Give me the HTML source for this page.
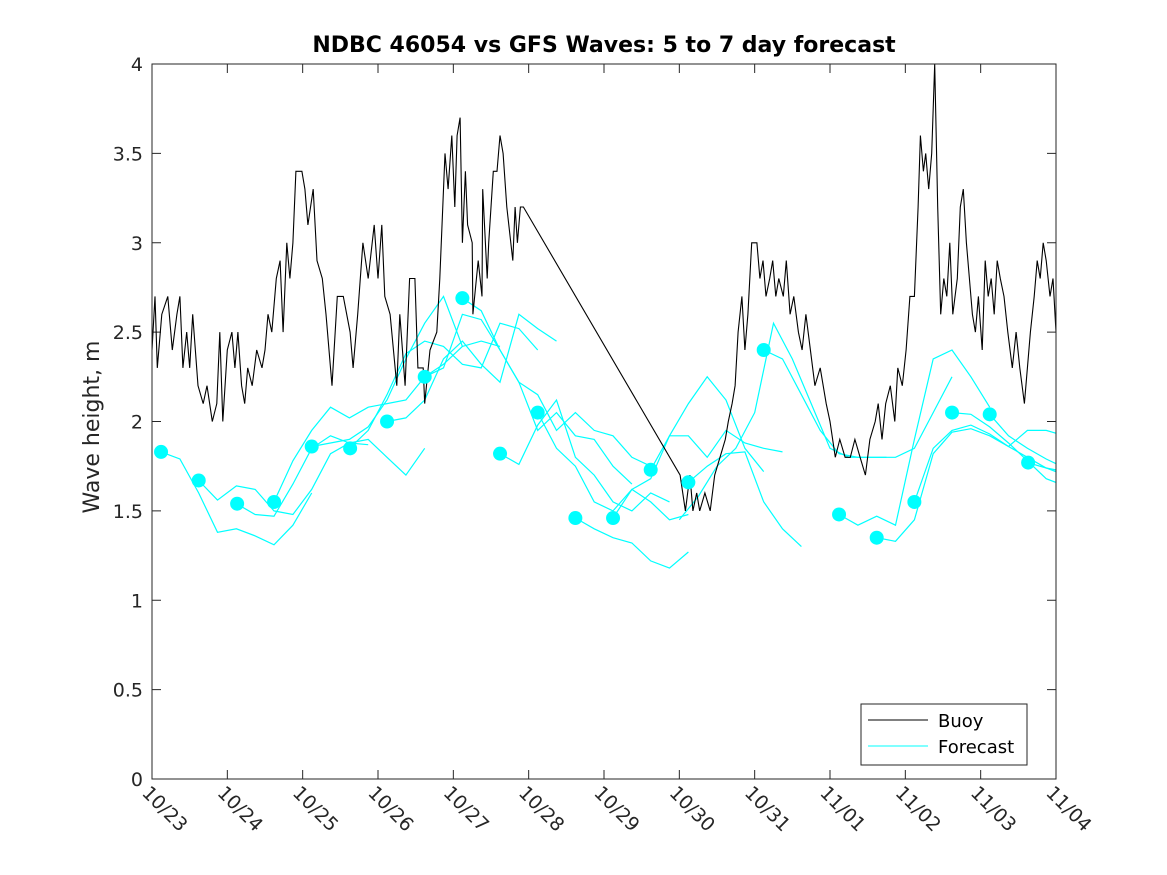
<!DOCTYPE html>
<html><head><meta charset="utf-8"><style>
body{margin:0;background:#fff;}
svg{display:block;font-family:"DejaVu Sans","Liberation Sans",sans-serif;}
</style></head><body>
<svg id="chart" width="1167" height="875" viewBox="0 0 1167 875" xmlns="http://www.w3.org/2000/svg">
<rect width="1167" height="875" fill="#fff"/>
<text x="604" y="52" text-anchor="middle" font-size="22" font-weight="bold" fill="#000">NDBC 46054 vs GFS Waves: 5 to 7 day forecast</text>
<text transform="translate(99,427) rotate(-90)" text-anchor="middle" font-size="22" fill="#262626">Wave height, m</text>
<defs><clipPath id="plotclip"><rect x="152" y="64" width="904" height="715"/></clipPath></defs>
<g id="grid"></g>
<g id="fc" clip-path="url(#plotclip)"></g>
<g id="buoy" clip-path="url(#plotclip)"></g>
<g id="dots"></g>
<rect x="152" y="64" width="904" height="715" fill="none" stroke="#262626" stroke-width="1"/>
<g>
<rect x="861" y="704" width="166" height="61" fill="#fff" stroke="#262626" stroke-width="1"/>
<line x1="868" y1="720" x2="928" y2="720" stroke="#000" stroke-width="1"/>
<text x="938" y="727" font-size="18" fill="#000">Buoy</text>
<line x1="868" y1="746" x2="928" y2="746" stroke="#00ffff" stroke-width="1"/>
<text x="938" y="753" font-size="18" fill="#000">Forecast</text>
</g>
</svg>
<script>
// x: days since 10/23
const xTickLabels = ["10/23","10/24","10/25","10/26","10/27","10/28","10/29","10/30","10/31","11/01","11/02","11/03","11/04"];
const yTicks = [0,0.5,1,1.5,2,2.5,3,3.5,4];
const buoyTime = [0.00,0.04,0.07,0.13,0.21,0.27,0.33,0.37,0.41,0.46,0.50,0.54,0.61,0.68,0.73,0.80,0.86,0.90,0.94,1.00,1.06,1.10,1.14,1.19,1.23,1.27,1.33,1.39,1.46,1.50,1.54,1.59,1.65,1.70,1.74,1.79,1.83,1.87,1.91,1.99,2.03,2.07,2.14,2.19,2.26,2.31,2.39,2.46,2.54,2.63,2.67,2.73,2.80,2.87,2.95,3.00,3.05,3.09,3.16,3.25,3.29,3.36,3.42,3.49,3.53,3.60,3.62,3.69,3.78,3.82,3.89,3.93,3.98,4.02,4.05,4.09,4.12,4.16,4.19,4.25,4.26,4.33,4.38,4.39,4.45,4.47,4.53,4.58,4.62,4.66,4.71,4.79,4.82,4.85,4.89,4.93,
7.01,7.08,7.14,7.18,7.23,7.27,7.34,7.41,7.47,7.54,7.61,7.65,7.70,7.74,7.78,7.83,7.87,7.91,7.96,8.03,8.07,8.11,8.15,8.20,8.24,8.28,8.32,8.38,8.42,8.47,8.52,8.58,8.63,8.68,8.74,8.80,8.87,8.95,9.00,9.07,9.13,9.20,9.27,9.33,9.40,9.47,9.53,9.60,9.64,9.69,9.74,9.80,9.86,9.90,9.96,10.01,10.06,10.12,10.17,10.20,10.24,10.27,10.31,10.35,10.39,10.43,10.47,10.51,10.55,10.59,10.63,10.69,10.73,10.77,10.81,10.85,10.89,10.93,10.97,11.02,11.06,11.10,11.14,11.18,11.22,11.26,11.31,11.36,11.42,11.47,11.52,11.58,11.62,11.66,11.71,11.75,11.79,11.83,11.87,11.92,11.96,12.00];
const buoyHeight = [2.4,2.7,2.3,2.6,2.7,2.4,2.6,2.7,2.3,2.5,2.3,2.6,2.2,2.1,2.2,2.0,2.1,2.5,2.0,2.4,2.5,2.3,2.5,2.2,2.1,2.3,2.2,2.4,2.3,2.4,2.6,2.5,2.8,2.9,2.5,3.0,2.8,3.0,3.4,3.4,3.3,3.1,3.3,2.9,2.8,2.6,2.2,2.7,2.7,2.5,2.3,2.6,3.0,2.8,3.1,2.8,3.1,2.7,2.6,2.2,2.6,2.2,2.8,2.8,2.3,2.3,2.1,2.4,2.5,2.8,3.5,3.3,3.6,3.2,3.6,3.7,3.0,3.4,3.1,3.0,2.6,2.9,2.7,3.3,2.8,3.0,3.4,3.4,3.6,3.5,3.2,2.9,3.2,3.0,3.2,3.2,
1.7,1.5,1.7,1.5,1.6,1.5,1.6,1.5,1.7,1.8,1.9,2.0,2.1,2.2,2.5,2.7,2.4,2.6,3.0,3.0,2.8,2.9,2.7,2.8,2.9,2.7,2.8,2.7,2.9,2.6,2.7,2.5,2.4,2.6,2.4,2.2,2.3,2.1,2.0,1.8,1.9,1.8,1.8,1.9,1.8,1.7,1.9,2.0,2.1,1.9,2.1,2.2,2.0,2.3,2.2,2.4,2.7,2.7,3.2,3.6,3.4,3.5,3.3,3.5,4.0,3.2,2.6,2.8,2.7,3.0,2.6,2.8,3.2,3.3,3.0,2.8,2.6,2.5,2.7,2.4,2.9,2.7,2.8,2.6,2.9,2.8,2.7,2.5,2.3,2.5,2.3,2.1,2.3,2.5,2.7,2.9,2.8,3.0,2.9,2.7,2.8,2.5];
// forecast runs: start day, values every 0.25 day
const runStart = [0.12,0.62,1.12,1.62,2.12,2.62,3.12,3.62,4.12,4.62,5.12,5.62,6.12,6.62,7.0,7.12,8.12,9.12,9.62,10.12,10.62,11.12,11.62];
const runValues = [
 [1.83,1.79,1.60,1.38,1.40,1.36,1.31,1.42,1.60],
 [1.67,1.56,1.64,1.62,1.50,1.48,1.62,1.82,1.88,1.87],
 [1.54,1.48,1.47,1.65,1.85,1.92,1.88,1.90,1.80,1.70,1.85],
 [1.55,1.78,1.95,2.08,2.02,2.08,2.10,2.12,2.25,2.32,2.42],
 [1.86,1.88,1.90,1.97,2.12,2.35,2.55,2.70,2.42,2.45,2.42],
 [1.85,1.95,2.15,2.38,2.45,2.42,2.32,2.30,2.55,2.52,2.40],
 [2.00,2.02,2.12,2.35,2.45,2.32,2.22,2.60,2.52,2.45],
 [2.25,2.30,2.60,2.57,2.40,2.22,1.95,2.05,1.92,1.90,1.75,1.65],
 [2.69,2.62,2.40,2.22,2.15,1.95,2.05,1.95,1.92,1.80,1.75],
 [1.82,1.76,1.98,2.12,1.80,1.70,1.55,1.50,1.60,1.55],
 [2.05,1.85,1.75,1.55,1.50,1.62,1.55,1.45,1.48],
 [1.46,1.40,1.35,1.32,1.22,1.18,1.27],
 [1.46,1.62,1.68,1.92,2.10,2.25,2.12,1.85,1.72],
 [1.73,1.92,1.92,1.80,1.95,1.88,1.85,1.83],
 [1.45,1.58,1.75,1.85,2.05,2.55,2.35,2.10,1.85,1.80,1.80,1.80],
 [1.66,1.75,1.82,1.83,1.55,1.40,1.30],
 [2.40,2.35,2.15,1.95,1.82,1.80,1.80,1.80,1.85,2.05,2.25],
 [1.48,1.42,1.47,1.42,1.90,2.35,2.40,2.25,2.08],
 [1.35,1.33,1.45,1.82,1.94,1.96,1.92,1.86,1.95,1.95,1.92],
 [1.55,1.85,1.95,1.98,1.93,1.86,1.80,1.74,1.72],
 [2.05,2.04,1.97,1.88,1.78,1.68,1.64],
 [2.04,1.92,1.85,1.79,1.74],
 [1.77,1.74,1.70]
];
const dotTime = [0.12,0.62,1.13,1.62,2.12,2.63,3.12,3.62,4.12,4.62,5.12,5.62,6.12,6.62,7.12,8.12,9.12,9.62,10.12,10.62,11.12,11.63];
const dotValue = [1.83,1.67,1.54,1.55,1.86,1.85,2.00,2.25,2.69,1.82,2.05,1.46,1.46,1.73,1.66,2.40,1.48,1.35,1.55,2.05,2.04,1.77];

const NS="http://www.w3.org/2000/svg";
const X0=152,X1=1056,Y0=779,Y1=64,XMAX=12,YMAX=4;
function xs(d){return X0+(X1-X0)*d/XMAX;}
function ys(v){return Y0-(Y0-Y1)*v/YMAX;}
function mk(tag,attrs,parent){const e=document.createElementNS(NS,tag);for(const k in attrs)e.setAttribute(k,attrs[k]);parent.appendChild(e);return e;}

const grid=document.getElementById('grid');
xTickLabels.forEach((lab,i)=>{
  const x=xs(i);
  const t1=mk('line',{x1:x,y1:Y0,x2:x,y2:Y0-9,stroke:'#262626'},grid);
  
  
  const t2=mk('line',{x1:x,y1:Y1,x2:x,y2:Y1+9,stroke:'#262626'},grid);
  
  
  const tx=mk('text',{transform:`translate(${x-11},${Y0+15}) rotate(45)`,'font-size':19,fill:'#262626'},grid);
  tx.textContent=lab;
  
  
});
yTicks.forEach(v=>{
  const y=ys(v);
  const t1=mk('line',{x1:X0,y1:y,x2:X0+9,y2:y,stroke:'#262626'},grid);
  
  
  const t2=mk('line',{x1:X1,y1:y,x2:X1-9,y2:y,stroke:'#262626'},grid);
  
  
  const tx=mk('text',{x:X0-9,y:y+7,'text-anchor':'end','font-size':19,fill:'#262626'},grid);
  tx.textContent=String(v);
  
  
});

const fc=document.getElementById('fc');
runValues.forEach((vals,r)=>{
  const pts=vals.map((v,i)=>xs(runStart[r]+0.25*i).toFixed(1)+','+ys(v).toFixed(1)).join(' ');
  const pl=mk('polyline',{points:pts,fill:'none',stroke:'#00ffff','stroke-width':1.2},fc);
  
  
});

const bg=document.getElementById('buoy');
const bpts=buoyTime.map((t,i)=>xs(t).toFixed(1)+','+ys(buoyHeight[i]).toFixed(1)).join(' ');
const bl=mk('polyline',{points:bpts,fill:'none',stroke:'#000','stroke-width':1.1},bg);



const dg=document.getElementById('dots');
dotTime.forEach((t,i)=>{
  const c=mk('circle',{cx:xs(t),cy:ys(dotValue[i]),r:7,fill:'#00ffff'},dg);
  
  
});
</script>
</body></html>
